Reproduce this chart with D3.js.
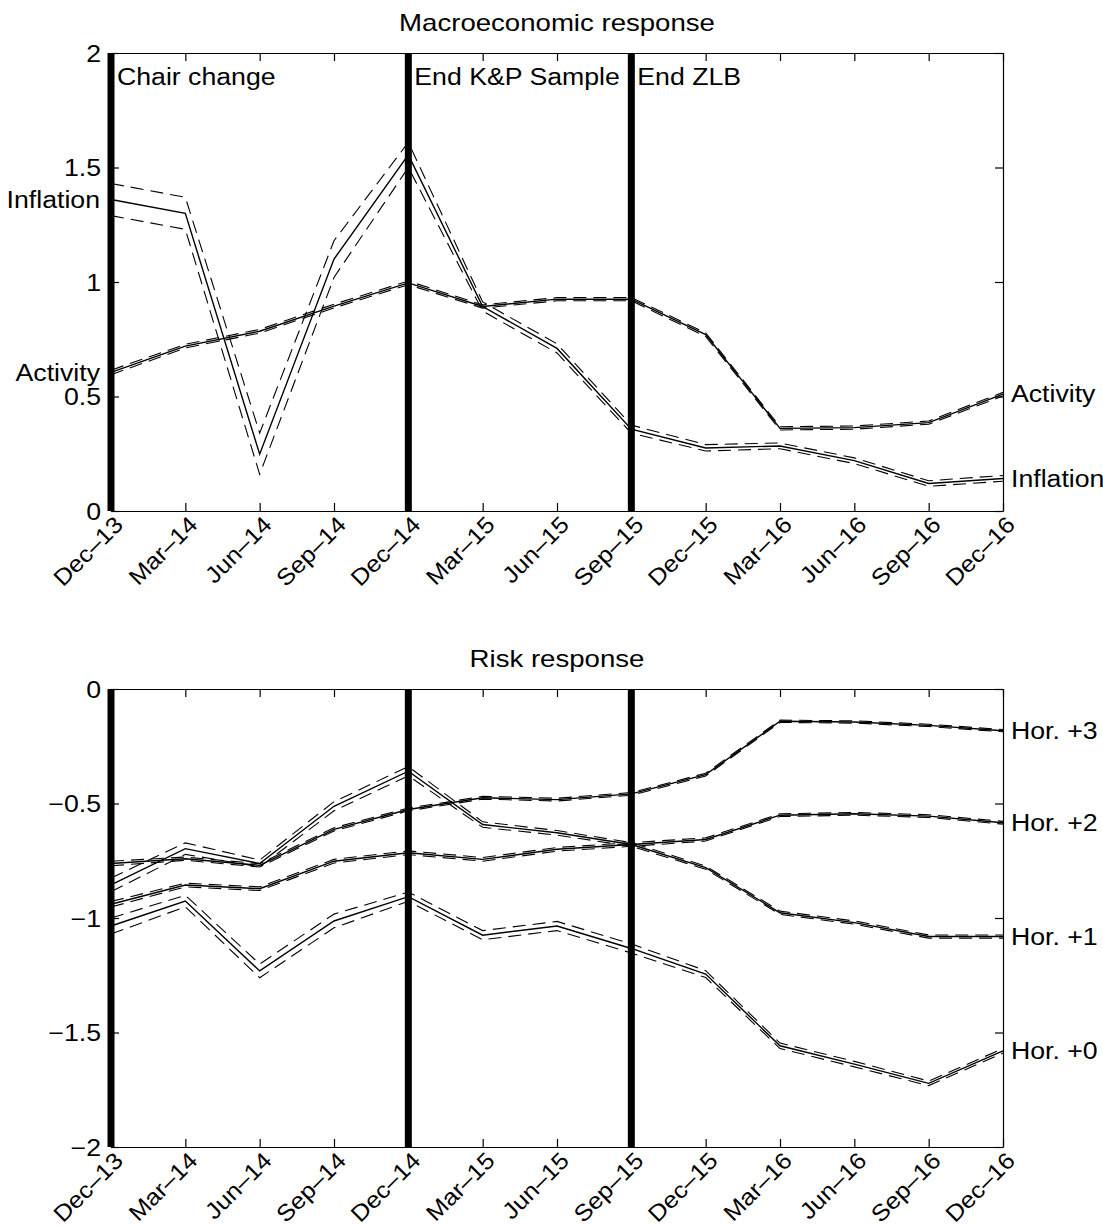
<!DOCTYPE html>
<html>
<head>
<meta charset="utf-8">
<script src="https://cdn.jsdelivr.net/npm/d3@7"></script>
<style>
  body { margin: 0; background: #fff; }
  svg { display: block; }
  text { font-family: "Liberation Sans", Arial, Helvetica, sans-serif; font-size: 23px; fill: #000; }
  .line { fill: none; stroke: #000; stroke-width: 1.4; }
  .band { fill: none; stroke: #000; stroke-width: 1.1; stroke-dasharray: 13,7; }
  .event { stroke: #000; stroke-width: 7; }
  .axis path, .axis line { stroke: #000; stroke-width: 1.2; }
</style>
</head>
<body>
<div class="chart"></div>
<script>
// quarters on the x axis
var dates = ["Dec\u201313", "Mar\u201314", "Jun\u201314", "Sep\u201314", "Dec\u201314", "Mar\u201315", "Jun\u201315",
  "Sep\u201315", "Dec\u201315", "Mar\u201316", "Jun\u201316", "Sep\u201316", "Dec\u201316"];

// vertical markers
var eventDates = ["Dec\u201313", "Dec\u201314", "Sep\u201315"];
var eventLabels = ["Chair change", "End K&P Sample", "End ZLB"];

// y ticks
var macroTicks = [0, 0.5, 1, 1.5, 2];
var macroTickLabels = ["0", "0.5", "1", "1.5", "2"];
var riskTicks = [-2, -1.5, -1, -0.5, 0];
var riskTickLabels = ["\u22122", "\u22121.5", "\u22121", "\u22120.5", "0"];

// Macroeconomic response
var inflation   = [1.36, 1.30, 0.248, 1.10, 1.555, 0.893, 0.71, 0.357, 0.275, 0.284, 0.22, 0.12, 0.142];
var inflationLo = [1.29, 1.23, 0.16, 1.02, 1.50, 0.873, 0.69, 0.34, 0.262, 0.272, 0.207, 0.108, 0.13];
var inflationHi = [1.43, 1.37, 0.34, 1.18, 1.61, 0.913, 0.73, 0.375, 0.29, 0.297, 0.232, 0.132, 0.155];

var activity   = [0.605, 0.72, 0.785, 0.895, 0.996, 0.893, 0.925, 0.925, 0.77, 0.361, 0.364, 0.386, 0.51];
var activityLo = [0.595, 0.712, 0.777, 0.887, 0.988, 0.886, 0.918, 0.918, 0.762, 0.354, 0.357, 0.379, 0.502];
var activityHi = [0.615, 0.728, 0.793, 0.903, 1.004, 0.900, 0.932, 0.932, 0.778, 0.368, 0.371, 0.393, 0.518];

// Risk response
var hor0   = [-1.035, -0.926, -1.231, -1.013, -0.907, -1.075, -1.035, -1.133, -1.245, -1.558, -1.638, -1.722, -1.58];
var hor0Lo = [-1.07, -0.951, -1.261, -1.043, -0.927, -1.095, -1.055, -1.153, -1.26, -1.57, -1.65, -1.732, -1.59];
var hor0Hi = [-1.0, -0.901, -1.201, -0.983, -0.887, -1.055, -1.015, -1.113, -1.23, -1.546, -1.626, -1.712, -1.57];

var hor1   = [-0.855, -0.697, -0.762, -0.512, -0.359, -0.592, -0.628, -0.679, -0.78, -0.977, -1.02, -1.081, -1.081];
var hor1Lo = [-0.885, -0.722, -0.777, -0.532, -0.379, -0.604, -0.638, -0.687, -0.787, -0.984, -1.027, -1.088, -1.088];
var hor1Hi = [-0.825, -0.672, -0.747, -0.492, -0.339, -0.58, -0.618, -0.671, -0.773, -0.97, -1.013, -1.074, -1.074];

var hor2   = [-0.94, -0.856, -0.872, -0.752, -0.715, -0.744, -0.70, -0.679, -0.657, -0.551, -0.545, -0.555, -0.584];
var hor2Lo = [-0.952, -0.864, -0.88, -0.76, -0.723, -0.752, -0.708, -0.687, -0.664, -0.557, -0.551, -0.561, -0.59];
var hor2Hi = [-0.928, -0.848, -0.864, -0.744, -0.707, -0.736, -0.692, -0.671, -0.65, -0.545, -0.539, -0.549, -0.578];

var hor3   = [-0.762, -0.741, -0.77, -0.613, -0.526, -0.475, -0.483, -0.458, -0.374, -0.141, -0.144, -0.159, -0.182];
var hor3Lo = [-0.772, -0.748, -0.777, -0.62, -0.532, -0.481, -0.489, -0.464, -0.38, -0.146, -0.149, -0.164, -0.187];
var hor3Hi = [-0.752, -0.734, -0.763, -0.606, -0.52, -0.469, -0.477, -0.452, -0.368, -0.136, -0.139, -0.154, -0.177];

(function() {
  var
    W = 1103,
    H = 1228,
    margin = {left: 111, right: 100},
    width = W - margin.left - margin.right,
    height = 458,
    sx = 1.16; // glyphs in the figure are a little wider than tall

  var svg = d3.select(".chart").append("svg")
    .attr("width", W)
    .attr("height", H);

  var x = d3.scalePoint().domain(dates).range([0, width]);

  function panel(opts) {
    var g = svg.append("g").attr("transform", "translate(" + margin.left + "," + opts.top + ")");
    var y = d3.scaleLinear().domain(opts.domain).range([height, 0]);
    var line = d3.line()
      .x(function(d, i) { return x(dates[i]); })
      .y(function(d) { return y(d); });

    // box with inward ticks
    var ax = g.append("g").attr("class", "axis").attr("transform", "translate(0," + height + ")")
      .call(d3.axisBottom(x).tickSizeInner(-8).tickSizeOuter(0));
    ax.selectAll("text")
      .attr("y", null).attr("dy", null)
      .attr("text-anchor", "end")
      .attr("transform", "translate(13,15) rotate(-45) scale(1.1,1)");

    g.append("g").attr("class", "axis")
      .call(d3.axisTop(x).tickSizeInner(-8).tickSizeOuter(0).tickFormat(""));

    var ay = g.append("g").attr("class", "axis")
      .call(d3.axisLeft(y).tickValues(opts.ticks).tickSizeInner(-8).tickSizeOuter(0)
        .tickFormat(function(d, i) { return opts.tickLabels[i]; }));
    ay.selectAll("text")
      .attr("x", null)
      .attr("dy", "0.36em")
      .attr("transform", "translate(-10,0) scale(" + sx + ",1)");

    g.append("g").attr("class", "axis").attr("transform", "translate(" + width + ",0)")
      .call(d3.axisRight(y).tickValues(opts.ticks).tickSizeInner(-8).tickSizeOuter(0).tickFormat(""));

    // event markers
    g.selectAll(".event")
      .data(eventDates)
    .enter().append("line")
      .attr("class", "event")
      .attr("x1", function(d) { return x(d); })
      .attr("x2", function(d) { return x(d); })
      .attr("y1", 0)
      .attr("y2", height);

    if (opts.eventText) {
      g.selectAll(".elabel")
        .data(eventDates)
      .enter().append("text")
        .attr("class", "elabel")
        .attr("transform", function(d) { return "translate(" + (x(d) + 6) + ",32) scale(" + sx + ",1)"; })
        .text(function(d, i) { return eventLabels[i]; });
    }

    opts.series.forEach(function(s) {
      g.append("path").attr("class", "band").attr("d", line(s.lo));
      g.append("path").attr("class", "band").attr("d", line(s.hi));
      g.append("path").attr("class", "line").attr("d", line(s.mid));
      g.append("text")
        .attr("dy", "0.36em")
        .attr("transform", "translate(" + (width + 8) + "," + y(s.mid[s.mid.length - 1]) + ") scale(" + sx + ",1)")
        .text(s.name);
      if (opts.leftNames) {
        g.append("text")
          .attr("dy", "0.36em")
          .attr("text-anchor", "end")
          .attr("transform", "translate(-11," + y(s.mid[0]) + ") scale(" + sx + ",1)")
          .text(s.name);
      }
    });

    g.append("text")
      .attr("text-anchor", "middle")
      .attr("transform", "translate(" + (width / 2) + "," + (-22) + ") scale(1.2,1)")
      .text(opts.title);
  }

  panel({
    top: 53,
    title: "Macroeconomic response",
    domain: [0, 2],
    ticks: macroTicks,
    tickLabels: macroTickLabels,
    eventText: true,
    leftNames: true,
    series: [
      {name: "Inflation", mid: inflation, lo: inflationLo, hi: inflationHi},
      {name: "Activity", mid: activity, lo: activityLo, hi: activityHi}
    ]
  });

  panel({
    top: 689,
    title: "Risk response",
    domain: [-2, 0],
    ticks: riskTicks,
    tickLabels: riskTickLabels,
    eventText: false,
    leftNames: false,
    series: [
      {name: "Hor. +0", mid: hor0, lo: hor0Lo, hi: hor0Hi},
      {name: "Hor. +1", mid: hor1, lo: hor1Lo, hi: hor1Hi},
      {name: "Hor. +2", mid: hor2, lo: hor2Lo, hi: hor2Hi},
      {name: "Hor. +3", mid: hor3, lo: hor3Lo, hi: hor3Hi}
    ]
  });
})();
</script>
</body>
</html>
